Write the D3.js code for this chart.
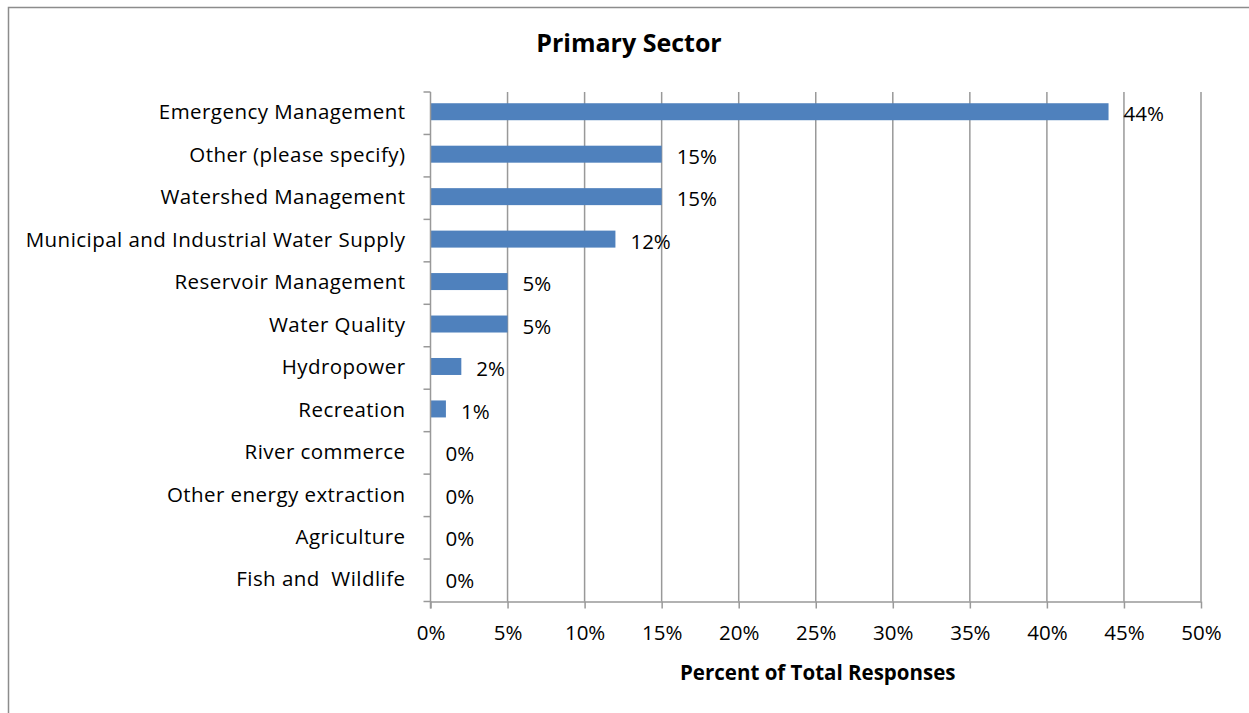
<!DOCTYPE html>
<html>
<head>
<meta charset="utf-8">
<script src="https://cdn.jsdelivr.net/npm/d3@7"></script>
<style>
  html, body { margin: 0; padding: 0; background: #fff; }
  svg { display: block; }
  text { font-family: "Open Sans", "Noto Sans", sans-serif; fill: #000; }
</style>
</head>
<body>
<svg id="chart" width="1249" height="713"></svg>
<script>
const categories = [
  "Emergency Management",
  "Other (please specify)",
  "Watershed Management",
  "Municipal and Industrial Water Supply",
  "Reservoir Management",
  "Water Quality",
  "Hydropower",
  "Recreation",
  "River commerce",
  "Other energy extraction",
  "Agriculture",
  "Fish and  Wildlife"
];
const values = [44, 15, 15, 12, 5, 5, 2, 1, 0, 0, 0, 0];
const xTicks = [0, 5, 10, 15, 20, 25, 30, 35, 40, 45, 50];
const titleText = "Primary Sector";
const xAxisTitle = "Percent of Total Responses";

const W = 1249, H = 713;
const margin = { left: 430.5, right: 48, top: 92, bottom: 111.5 };
const svg = d3.select("#chart");
const FS = 20.5;

// outer frame
svg.append("rect")
  .attr("x", 8.5).attr("y", 7.5)
  .attr("width", W + 10).attr("height", H + 10)
  .attr("fill", "none").attr("stroke", "#8c8c8c").attr("stroke-width", 1.5);

const x = d3.scaleLinear().domain([0, 50]).range([margin.left, W - margin.right]);
const y = d3.scaleBand().domain(categories).range([margin.top, H - margin.bottom])
  .paddingInner(0.6).paddingOuter(0.3);

const gridColor = "#999999";

// vertical gridlines
svg.append("g").selectAll("line").data(xTicks.filter(d => d > 0)).join("line")
  .attr("x1", d => x(d)).attr("x2", d => x(d))
  .attr("y1", margin.top).attr("y2", H - margin.bottom)
  .attr("stroke", gridColor).attr("stroke-width", 1.5);

// bars
svg.append("g").selectAll("rect").data(categories).join("rect")
  .attr("x", x(0))
  .attr("y", d => y(d) - 1.5)
  .attr("width", (d, i) => x(values[i]) - x(0))
  .attr("height", y.bandwidth())
  .attr("fill", "#4F81BD");

// x axis
const xAxis = d3.axisBottom(x).tickValues(xTicks).tickFormat(d => d + "%")
  .tickSizeInner(7).tickSizeOuter(0).tickPadding(17);
const gx = svg.append("g").attr("transform", `translate(0,${H - margin.bottom})`).call(xAxis);
gx.select(".domain").attr("stroke", gridColor).attr("stroke-width", 1.5);
gx.selectAll(".tick line").attr("stroke", gridColor).attr("stroke-width", 1.5);
gx.selectAll(".tick text").attr("font-size", FS).attr("font-family", "Open Sans").attr("fill", "#000");

// y axis: ticks between categories
const yBoundaries = d3.range(categories.length + 1).map(i => margin.top + i * (H - margin.bottom - margin.top) / categories.length);
const gy = svg.append("g");
gy.append("line")
  .attr("x1", x(0)).attr("x2", x(0))
  .attr("y1", margin.top).attr("y2", H - margin.bottom + 7)
  .attr("stroke", gridColor).attr("stroke-width", 1.5);
gy.selectAll("line.t").data(yBoundaries).join("line").attr("class", "t")
  .attr("x1", x(0) - 7).attr("x2", x(0))
  .attr("y1", d => d).attr("y2", d => d)
  .attr("stroke", gridColor).attr("stroke-width", 1.5);

// category labels
svg.append("g").selectAll("text").data(categories).join("text")
  .attr("x", x(0) - 25)
  .attr("y", d => y(d) + y.bandwidth() / 2 - 1)
  .attr("dy", "0.35em")
  .attr("text-anchor", "end")
  .attr("font-size", FS)
  .attr("letter-spacing", "0.45px")
  .attr("xml:space", "preserve")
  .text(d => d);

// value labels
svg.append("g").selectAll("text").data(categories).join("text")
  .attr("x", (d, i) => x(values[i]) + 15)
  .attr("y", d => y(d) + y.bandwidth() / 2 + 1)
  .attr("dy", "0.35em")
  .attr("font-size", FS)
  .text((d, i) => values[i] + "%");

// title
svg.append("text")
  .attr("x", 629).attr("y", 43).attr("dy", "0.35em")
  .attr("text-anchor", "middle").attr("font-weight", "bold").attr("font-size", 25)
  .text(titleText);

// axis title
svg.append("text")
  .attr("x", x(25) + 2).attr("y", 673).attr("dy", "0.35em")
  .attr("text-anchor", "middle").attr("font-weight", "bold").attr("font-size", 20.5)
  .text(xAxisTitle);
</script>
</body>
</html>
